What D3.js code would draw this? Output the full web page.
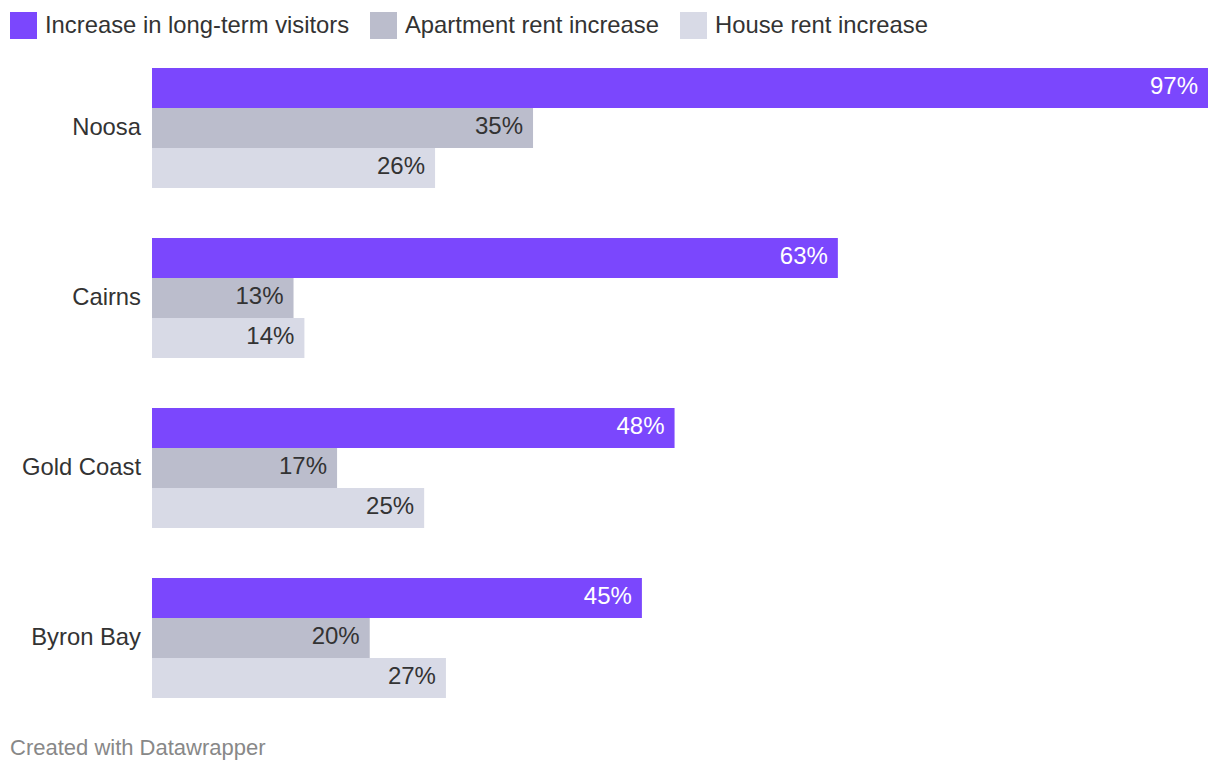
<!DOCTYPE html>
<html>
<head>
<meta charset="utf-8">
<script src="https://cdn.jsdelivr.net/npm/d3@7"></script>
<style>
  body { margin: 0; background: #fff; }
  svg { font-family: "Liberation Sans", Helvetica, Arial, sans-serif; }
</style>
</head>
<body>
<script>
const width = 1220
const height = 772

const places = ['Noosa', 'Cairns', 'Gold Coast', 'Byron Bay']
const seriesNames = ['Increase in long-term visitors', 'Apartment rent increase', 'House rent increase']
const visitors = [97, 63, 48, 45]
const apartment = [35, 13, 17, 20]
const house = [26, 14, 25, 27]
const colors = ['#7b47fd', '#bbbdcc', '#d8dae6']
const labelColors = ['#fff', '#333', '#333']

const series = [visitors, apartment, house]

const svg = d3.select('body').append('svg')
  .attr('width', width)
  .attr('height', height)

// legend
const legendX = [10, 370, 680]
const legend = svg.append('g').selectAll('g')
  .data(seriesNames)
  .enter().append('g')
  .attr('transform', (d, i) => 'translate(' + legendX[i] + ',12)')
legend.append('rect')
  .attr('width', 27)
  .attr('height', 27)
  .attr('fill', (d, i) => colors[i])
legend.append('text')
  .attr('x', 35)
  .attr('y', 20.5)
  .attr('font-size', 23.8)
  .attr('fill', '#333')
  .text(d => d)

const x = d3.scaleLinear()
  .domain([0, d3.max(visitors)])
  .range([152, 1208])

const y = d3.scaleBand()
  .domain(places)
  .range([68, 698])
  .paddingInner(50 / 170)
  .paddingOuter(0)

const inner = d3.scaleBand()
  .domain(d3.range(3))
  .range([0, y.bandwidth()])

const groups = svg.append('g').selectAll('g')
  .data(places)
  .enter().append('g')
  .attr('transform', d => 'translate(0,' + y(d) + ')')

groups.append('text')
  .attr('x', 141)
  .attr('y', y.bandwidth() / 2)
  .attr('dy', '0.3em')
  .attr('text-anchor', 'end')
  .attr('font-size', 23.8)
  .attr('fill', '#333')
  .text(d => d)

groups.each(function (p, pi) {
  const g = d3.select(this)
  series.forEach((vals, si) => {
    const v = vals[pi]
    g.append('rect')
      .attr('x', x(0))
      .attr('y', inner(si))
      .attr('width', x(v) - x(0))
      .attr('height', inner.bandwidth())
      .attr('fill', colors[si])
    g.append('text')
      .attr('x', x(v) - 10)
      .attr('y', inner(si) + inner.bandwidth() / 2)
      .attr('dy', '0.27em')
      .attr('text-anchor', 'end')
      .attr('font-size', 24)
      .attr('fill', labelColors[si])
      .text(v + '%')
  })
})

svg.append('text')
  .attr('x', 10)
  .attr('y', 755)
  .attr('font-size', 22)
  .attr('fill', '#888')
  .text('Created with Datawrapper')
</script>
</body>
</html>
